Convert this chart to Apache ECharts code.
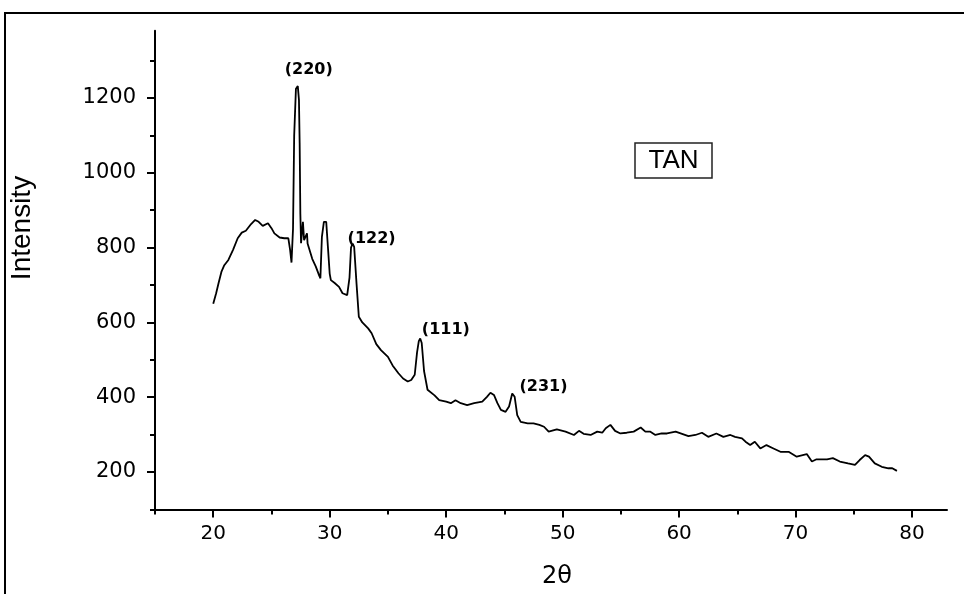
<!DOCTYPE html>
<html>
<head>
<meta charset="utf-8">
<title>TAN XRD</title>
<script src="https://cdn.jsdelivr.net/npm/echarts@6/dist/echarts.min.js"></script>
<style>
  html, body { margin: 0; padding: 0; background: #fff; }
  #main { width: 964px; height: 594px; }
</style>
</head>
<body>
<div id="main"></div>
<script>
// 2θ positions (deg)
const twoTheta = [
  20.0, 20.25, 20.45, 20.7, 20.95, 21.3, 21.7, 22.1, 22.45, 22.8,
  23.25, 23.6, 23.9, 24.25, 24.7, 25.0, 25.25, 25.7, 26.1, 26.45,
  26.6, 26.72, 26.85, 26.95, 27.1, 27.26, 27.36, 27.42, 27.48, 27.54,
  27.7, 27.8, 28.05, 28.1, 28.5, 28.8, 29.1, 29.2, 29.33, 29.5,
  29.7, 29.85, 30.0, 30.1, 30.4, 30.8, 31.1, 31.5, 31.7, 31.83,
  31.97, 32.1, 32.3, 32.5, 32.8, 33.3, 33.6, 34.0, 34.4, 35.0,
  35.4, 35.9, 36.3, 36.7, 37.0, 37.3, 37.5, 37.65, 37.77, 37.9,
  38.1, 38.4, 39.0, 39.4, 40.0, 40.4, 40.8, 41.25, 41.8, 42.4,
  43.1, 43.5, 43.8, 44.1, 44.4, 44.7, 45.1, 45.4, 45.67, 45.88,
  46.1, 46.4, 47.0, 47.5, 48.0, 48.4, 48.8, 49.5, 50.25, 50.97,
  51.4, 51.8, 52.4, 52.97, 53.4, 53.7, 54.1, 54.5, 54.96, 55.5,
  56.1, 56.7, 57.1, 57.5, 57.96, 58.5, 58.96, 59.7, 60.25, 60.8,
  61.4, 61.96, 62.5, 63.2, 63.8, 64.4, 64.8, 65.4, 65.7, 66.1,
  66.5, 66.97, 67.5, 68.1, 68.7, 69.4, 70.1, 70.96, 71.4, 71.8,
  72.7, 73.2, 73.8, 74.5, 75.1, 75.5, 75.97, 76.3, 76.8, 77.4,
  77.97, 78.3, 78.7
]
// intensity (counts)
const intensity = [
  650, 678, 704, 735, 753, 767, 794, 825, 840, 845,
  863, 874, 869, 858, 865, 852, 838, 827, 825, 825,
  794, 760, 850, 1100, 1225, 1232, 1195, 1080, 890, 812,
  869, 820, 838, 811, 770, 750, 725, 718, 829, 869,
  869, 800, 730, 713, 706, 695, 678, 673, 720, 800,
  811, 802, 705, 615, 600, 584, 571, 542, 526, 508,
  485, 464, 450, 442, 446, 460, 520, 550, 557, 545,
  470, 420, 405, 392, 388, 384, 392, 384, 379, 384,
  388, 401, 412, 406, 384, 366, 361, 375, 410, 401,
  352, 334, 330, 330, 326, 321, 308, 314, 308, 299,
  310, 302, 299, 308, 305, 317, 326, 310, 303, 305,
  308, 319, 308, 308, 299, 303, 303, 308, 302, 296,
  299, 305, 294, 303, 294, 299, 294, 290, 281, 272,
  281, 263, 272, 263, 254, 254, 241, 248, 228, 234,
  234, 237, 228, 223, 219, 232, 245, 241, 223, 214,
  210, 210, 203
]

// peak labels: [2θ, intensity, text]
const peakLabels = [
  [28.2, 1275, '(220)'],
  [33.6, 823, '(122)'],
  [39.97, 580, '(111)'],
  [48.36, 427, '(231)']
]

const xMajorTicks = [20, 30, 40, 50, 60, 70, 80]
const xMinorTicks = [15, 25, 35, 45, 55, 65, 75]
const yMajorTicks = [200, 400, 600, 800, 1000, 1200]
const yMinorTicks = [100, 300, 500, 700, 900, 1100, 1300]

const chart = echarts.init(document.getElementById('main'))

const axisFont = 'DejaVu Sans'
const lineStyle = { color: '#000', width: 2 }

const option = {
  backgroundColor: '#fff',
  animation: false,
  grid: { left: 155, right: 17, top: 30.7, bottom: 84.6, containLabel: false },
  xAxis: [
    {
      type: 'value', min: 15, max: 83, position: 'bottom',
      axisLine: { show: true, onZero: false, lineStyle: lineStyle },
      axisTick: { show: true, inside: false, length: 8, lineStyle: lineStyle, customValues: xMajorTicks },
      axisLabel: { customValues: xMajorTicks, formatter: v => String(v), margin: 14, color: '#000', fontSize: 20, fontFamily: axisFont },
      splitLine: { show: false }
    },
    {
      type: 'value', min: 15, max: 83, position: 'bottom', offset: 0,
      axisLine: { show: false },
      axisTick: { show: true, inside: false, length: 5, lineStyle: lineStyle, customValues: xMinorTicks },
      axisLabel: { show: false },
      splitLine: { show: false }
    }
  ],
  yAxis: [
    {
      type: 'value', min: 100, max: 1380, position: 'left',
      axisLine: { show: true, onZero: false, lineStyle: lineStyle },
      axisTick: { show: true, inside: false, length: 8, lineStyle: lineStyle, customValues: yMajorTicks },
      axisLabel: { customValues: yMajorTicks, formatter: v => String(v), margin: 19, color: '#000', fontSize: 21, fontFamily: axisFont },
      splitLine: { show: false }
    },
    {
      type: 'value', min: 100, max: 1380, position: 'left', offset: 0,
      axisLine: { show: false },
      axisTick: { show: true, inside: false, length: 5, lineStyle: lineStyle, customValues: yMinorTicks },
      axisLabel: { show: false },
      splitLine: { show: false }
    }
  ],
  series: [
    {
      name: 'TAN',
      type: 'line',
      xAxisIndex: 0,
      yAxisIndex: 0,
      showSymbol: false,
      symbol: 'none',
      lineStyle: { color: '#000', width: 1.8 },
      data: twoTheta.map((t, i) => [t, intensity[i]])
    },
    {
      name: 'labels',
      type: 'scatter',
      xAxisIndex: 0,
      yAxisIndex: 0,
      symbolSize: 0,
      silent: true,
      itemStyle: { opacity: 1, color: '#000' },
      label: {
        show: true,
        position: 'inside',
        formatter: p => p.data[2],
        color: '#000',
        fontSize: 16,
        fontWeight: 'bold',
        fontFamily: 'DejaVu Sans'
      },
      data: peakLabels
    }
  ],
  graphic: [
    // outer frame, runs off the right and bottom edges
    {
      type: 'rect', silent: true,
      shape: { x: 5, y: 13, width: 2000, height: 2000 },
      style: { fill: 'none', stroke: '#000', lineWidth: 2 }
    },
    // legend box
    {
      type: 'rect', silent: true,
      shape: { x: 635, y: 143, width: 77, height: 35 },
      style: { fill: '#fff', stroke: '#222', lineWidth: 1.5 }
    },
    {
      type: 'text', silent: true,
      x: 673.5, y: 161,
      style: { text: 'TAN', fill: '#000', font: '26px "Liberation Sans"', textAlign: 'center', textVerticalAlign: 'middle' }
    },
    // axis titles
    {
      type: 'text', silent: true,
      x: 22, y: 228, rotation: Math.PI / 2,
      style: { text: 'Intensity', fill: '#000', font: '28px "Liberation Sans Narrow", "Liberation Sans"', textAlign: 'center', textVerticalAlign: 'middle' }
    },
    {
      type: 'text', silent: true,
      x: 557, y: 577,
      style: { text: '2θ', fill: '#000', font: '24px "DejaVu Sans"', textAlign: 'center', textVerticalAlign: 'middle' }
    }
  ]
}

chart.setOption(option)
</script>
</body>
</html>
